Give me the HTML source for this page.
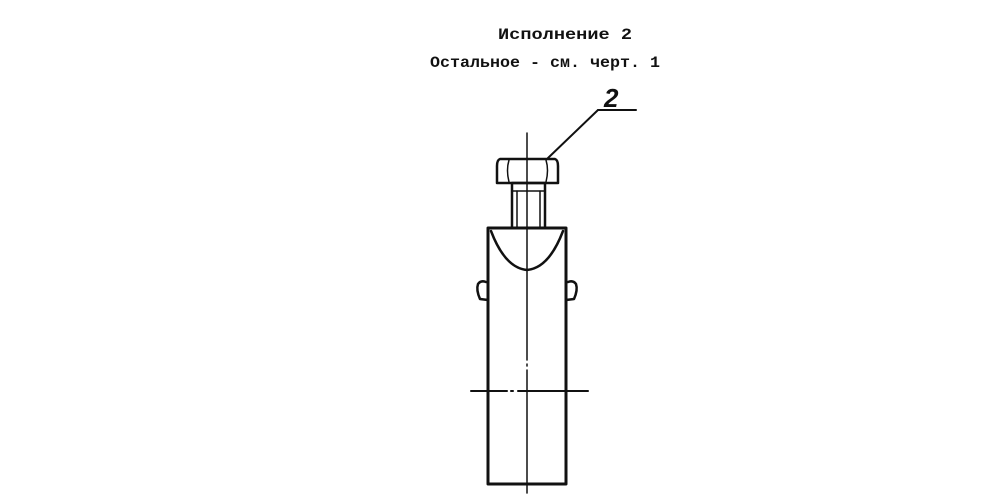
<!DOCTYPE html>
<html><head><meta charset="utf-8"><style>
html,body{margin:0;padding:0;background:#fff;width:1000px;height:500px;overflow:hidden}
</style></head><body>
<svg width="1000" height="500" viewBox="0 0 1000 500" xmlns="http://www.w3.org/2000/svg">
<g font-family="Liberation Mono, DejaVu Sans Mono, monospace" font-weight="bold" font-size="16" fill="#111">
<text x="498" y="39" textLength="134" lengthAdjust="spacingAndGlyphs">Исполнение 2</text>
<text x="430" y="67" textLength="230" lengthAdjust="spacingAndGlyphs">Остальное - см. черт. 1</text>
</g>
<text x="604" y="107" font-family="Liberation Sans, sans-serif" font-style="italic" font-weight="bold" font-size="26" fill="#111">2</text>
<g stroke="#111" fill="none" stroke-linecap="round" stroke-linejoin="round">
<line x1="548" y1="158" x2="598" y2="110" stroke-width="2"/>
<line x1="598" y1="110" x2="636" y2="110" stroke-width="2"/>
<line x1="527" y1="133" x2="527" y2="360" stroke-width="1.5"/>
<line x1="527" y1="364" x2="527" y2="366" stroke-width="1.5"/>
<line x1="527" y1="370" x2="527" y2="493" stroke-width="1.5"/>
<line x1="471" y1="391" x2="507" y2="391" stroke-width="2"/>
<line x1="511" y1="391" x2="513" y2="391" stroke-width="2"/>
<line x1="518" y1="391" x2="588" y2="391" stroke-width="2"/>
<path d="M500,159 L555,159 Q558,160 558,166 L558,183 L497,183 L497,166 Q497,160 500,159 Z" stroke-width="2.5"/>
<path d="M509,160 Q506,170 509,182 M546,160 Q549,170 546,182" stroke-width="1.5"/>
<rect x="512" y="183" width="33" height="45" stroke-width="2.5"/>
<line x1="512" y1="191" x2="545" y2="191" stroke-width="1.5"/>
<line x1="517" y1="191" x2="517" y2="228" stroke-width="1.5"/>
<line x1="540" y1="191" x2="540" y2="228" stroke-width="1.5"/>
<path d="M488,228 L566,228 L566,484 L488,484 Z" stroke-width="3"/>
<path d="M491,231 Q505,268 527,270 Q549,268 563,231" stroke-width="2.5"/>
<path d="M488,300 L480,299 Q476,290 478,284 Q481,280 486,282" stroke-width="2.5"/>
<path d="M566,300 L574,299 Q578,290 576,284 Q573,280 568,282" stroke-width="2.5"/>
</g>
</svg>
</body></html>
